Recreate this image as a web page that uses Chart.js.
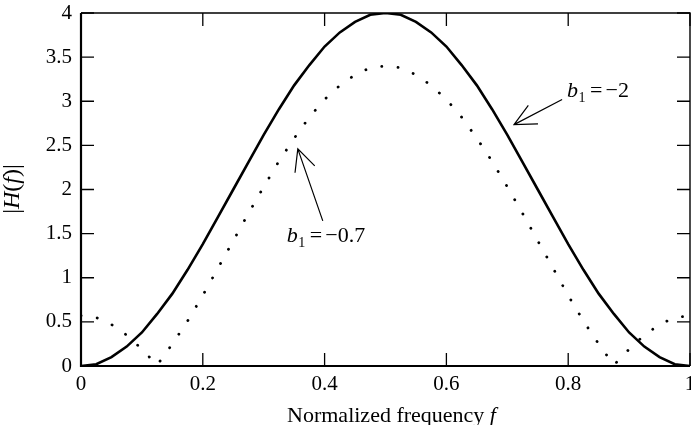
<!DOCTYPE html>
<html>
<head>
<meta charset="utf-8">
<script src="https://cdn.jsdelivr.net/npm/chart.js@4"></script>
<style>
  html, body { margin: 0; padding: 0; background: #fff; }
  #wrap { width: 691px; height: 425px; position: relative; }
</style>
</head>
<body>
<div id="wrap"><canvas id="chart"></canvas></div>
<script>
'use strict';

// normalized frequency samples
const freq = [0, 0.025, 0.05, 0.075, 0.1, 0.125, 0.15, 0.175, 0.2, 0.225, 0.25, 0.275, 0.3, 0.325, 0.35, 0.375, 0.4, 0.425, 0.45, 0.475, 0.5,
  0.525, 0.55, 0.575, 0.6, 0.625, 0.65, 0.675, 0.7, 0.725, 0.75, 0.775, 0.8, 0.825, 0.85, 0.875, 0.9, 0.925, 0.95, 0.975, 1];
// |H(f)| for b1 = -2 (solid)
const magB2 = [0, 0.02, 0.10, 0.22, 0.38, 0.59, 0.82, 1.09, 1.38, 1.69, 2.00, 2.31, 2.62, 2.91, 3.18, 3.41, 3.62, 3.78, 3.90, 3.98, 4.00,
  3.98, 3.90, 3.78, 3.62, 3.41, 3.18, 2.91, 2.62, 2.31, 2.00, 1.69, 1.38, 1.09, 0.82, 0.59, 0.38, 0.22, 0.10, 0.02, 0];
// |H(f)| for b1 = -0.7 (dotted)
const magB07 = [0.57, 0.55, 0.47, 0.35, 0.19, 0.01, 0.25, 0.51, 0.80, 1.11, 1.42, 1.73, 2.03, 2.32, 2.58, 2.82, 3.02, 3.18, 3.30, 3.38, 3.40,
  3.38, 3.30, 3.18, 3.02, 2.82, 2.58, 2.32, 2.03, 1.73, 1.42, 1.11, 0.80, 0.51, 0.25, 0.01, 0.19, 0.35, 0.47, 0.55, 0.57];

// annotation anchors, in data units
const notes = [
  { val: '\u22122', tx: 0.798, ty: 3.053, from: [0.790, 3.02], to: [0.711, 2.735] },
  { val: '\u22120.7', tx: 0.338, ty: 1.406, from: [0.397, 1.644], to: [0.356, 2.46] },
];

const SERIF = '"Liberation Serif", "Times New Roman", serif';
const FS = 21;

const pts = (ys) => freq.map((f, i) => ({ x: f, y: ys[i] }));
const fmt = (v) => String(+Number(v).toFixed(2));

const frame = {
  id: 'frame',
  afterDatasetsDraw(chart) {
    const { ctx, chartArea: a, scales: { x, y } } = chart;
    ctx.save();
    ctx.strokeStyle = '#000';
    // box
    ctx.lineWidth = 1.4;
    ctx.beginPath();
    ctx.moveTo(a.left, a.top); ctx.lineTo(a.right, a.top); ctx.lineTo(a.right, a.bottom);
    ctx.stroke();
    ctx.lineWidth = 2.2;
    ctx.beginPath();
    ctx.moveTo(a.left, a.top); ctx.lineTo(a.left, a.bottom); ctx.lineTo(a.right, a.bottom);
    ctx.stroke();
    // inward ticks on all sides
    ctx.lineWidth = 1.3;
    ctx.beginPath();
    x.ticks.forEach((t) => {
      const p = x.getPixelForValue(t.value);
      ctx.moveTo(p, a.bottom); ctx.lineTo(p, a.bottom - 13);
      ctx.moveTo(p, a.top); ctx.lineTo(p, a.top + 13);
    });
    y.ticks.forEach((t) => {
      const p = y.getPixelForValue(t.value);
      ctx.moveTo(a.left, p); ctx.lineTo(a.left + 13, p);
      ctx.moveTo(a.right, p); ctx.lineTo(a.right - 13, p);
    });
    ctx.stroke();

    // arrows + labels
    ctx.fillStyle = '#000';
    ctx.textBaseline = 'alphabetic';
    ctx.textAlign = 'left';
    notes.forEach((n) => {
      const x0 = x.getPixelForValue(n.from[0]), y0 = y.getPixelForValue(n.from[1]);
      const x1 = x.getPixelForValue(n.to[0]), y1 = y.getPixelForValue(n.to[1]);
      const ang = Math.atan2(y0 - y1, x0 - x1);
      const L = 24, da = 0.45;
      ctx.lineWidth = 1.2;
      ctx.beginPath();
      ctx.moveTo(x0, y0); ctx.lineTo(x1, y1);
      ctx.moveTo(x1 + L * Math.cos(ang - da), y1 + L * Math.sin(ang - da));
      ctx.lineTo(x1, y1);
      ctx.lineTo(x1 + L * Math.cos(ang + da), y1 + L * Math.sin(ang + da));
      ctx.stroke();

      const tx = x.getPixelForValue(n.tx);
      const ty = y.getPixelForValue(n.ty);
      ctx.font = 'italic 22px ' + SERIF;
      ctx.fillText('b', tx, ty);
      ctx.font = '14px ' + SERIF;
      ctx.fillText('1', tx + 11.5, ty + 5);
      ctx.font = '22px ' + SERIF;
      ctx.fillText('=', tx + 23, ty);
      ctx.fillText(n.val, tx + 38.5, ty);
    });

    // axis titles
    const runs = (parts, cx, cy, rot, size) => {
      ctx.save();
      ctx.translate(cx, cy);
      ctx.rotate(rot);
      let w = 0;
      parts.forEach((p) => { ctx.font = (p[1] ? 'italic ' : '') + size + 'px ' + SERIF; w += ctx.measureText(p[0]).width; });
      let px = -w / 2;
      ctx.textBaseline = 'middle';
      parts.forEach((p) => {
        ctx.font = (p[1] ? 'italic ' : '') + size + 'px ' + SERIF;
        ctx.fillText(p[0], px, 0);
        px += ctx.measureText(p[0]).width;
      });
      ctx.restore();
    };
    runs([['Normalized frequency ', false], ['f', true]], (a.left + a.right) / 2 + 6, 416, 0, 22);
    runs([['|', false], ['H', true], ['(', false], ['f', true], [')', false], ['|', false]], 13, 189, -Math.PI / 2, 24);
    ctx.restore();
  },
};

Chart.defaults.font.family = SERIF;
Chart.defaults.font.size = FS;
Chart.defaults.color = '#000';

new Chart(document.getElementById('chart'), {
  type: 'line',
  data: {
    datasets: [
      { data: pts(magB2), borderColor: '#000', borderWidth: 2.6, pointRadius: 0, tension: 0, fill: false },
      { data: pts(magB07), borderColor: '#000', borderWidth: 2.8, borderDash: [0.1, 16.3], borderCapStyle: 'round', pointRadius: 0, tension: 0, fill: false },
    ],
  },
  options: {
    responsive: true,
    maintainAspectRatio: false,
    animation: false,
    layout: { padding: { top: 13, right: 1, left: 0, bottom: 0 } },
    plugins: { legend: { display: false }, tooltip: { enabled: false } },
    scales: {
      x: {
        type: 'linear', min: 0, max: 1,
        ticks: { stepSize: 0.2, padding: 6, maxRotation: 0, callback: fmt },
        grid: { display: false, drawTicks: false },
        border: { display: false },
        afterFit: (s) => { s.height = 59; s.paddingLeft = 0; s.paddingRight = 0; },
      },
      y: {
        min: 0, max: 4,
        ticks: { stepSize: 0.5, padding: 9, callback: fmt },
        grid: { display: false, drawTicks: false },
        border: { display: false },
        afterFit: (s) => { s.width = 81; s.paddingTop = 0; s.paddingBottom = 0; },
      },
    },
  },
  plugins: [frame],
});
</script>
</body>
</html>
